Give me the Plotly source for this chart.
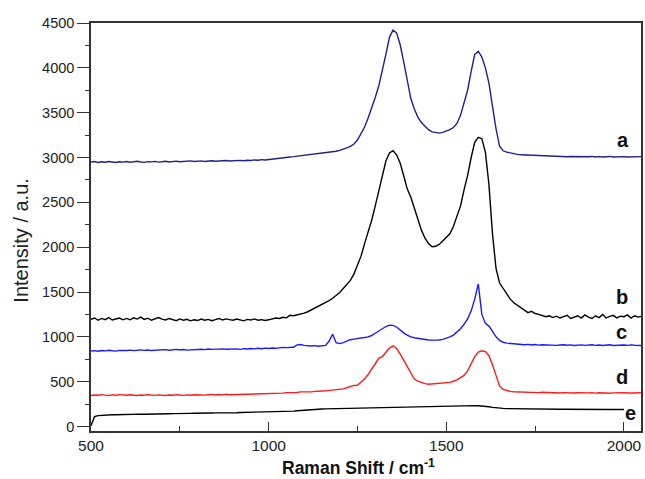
import plotly.graph_objects as go

# Raman shift grid (cm^-1), 10 cm^-1 steps
shift = list(range(500, 2051, 10))

# a: top spectrum (navy)
spec_a = [
    2950, 2955, 2945, 2952, 2948, 2956, 2950, 2944, 2953, 2949,
    2955, 2948, 2952, 2958, 2950, 2946, 2954, 2951, 2957, 2949,
    2953, 2958, 2950, 2955, 2960, 2952, 2957, 2954, 2962, 2956,
    2958, 2962, 2955, 2960, 2964, 2958, 2963, 2960, 2966, 2961,
    2965, 2962, 2968, 2964, 2970, 2967, 2973, 2969, 2976, 2972,
    2978, 2982, 2988, 2992, 2998, 3002, 3006, 3010, 3015, 3018,
    3022, 3028, 3032, 3036, 3042, 3047, 3052, 3058, 3064, 3070,
    3080, 3090, 3108, 3125, 3150, 3195, 3260, 3340, 3440, 3550,
    3670, 3800, 3960, 4150, 4340, 4420, 4390, 4260, 4070, 3850,
    3660, 3540, 3450, 3390, 3345, 3310, 3285, 3275, 3272, 3280,
    3295, 3310, 3335, 3380, 3470, 3610, 3750, 3960, 4150, 4185,
    4120, 4000, 3830, 3570, 3320, 3125, 3075, 3060, 3050, 3040,
    3035, 3030, 3028, 3025, 3022, 3020, 3018, 3020, 3016, 3015,
    3012, 3015, 3010, 3013, 3008, 3012, 3010, 3006, 3011, 3009,
    3008, 3012, 3006, 3010, 3005, 3009, 3012, 3006, 3010, 3008,
    3010, 3006, 3009, 3012, 3007, 3010,
]

# b: black spectrum
spec_b = [
    1195, 1210, 1185, 1205, 1192, 1215, 1188, 1200, 1210, 1190,
    1205, 1190, 1212, 1198, 1220, 1195, 1208, 1185, 1200, 1215,
    1198, 1188, 1205, 1192, 1180, 1200, 1185, 1195, 1178, 1190,
    1182, 1198, 1185, 1195, 1180, 1192, 1205, 1188, 1200, 1192,
    1185, 1198, 1190, 1178, 1195, 1188, 1200, 1185, 1192, 1182,
    1190, 1200, 1210, 1205, 1218, 1212, 1240, 1235, 1245, 1250,
    1265, 1280, 1300, 1320, 1340, 1360, 1385, 1405, 1430, 1460,
    1495, 1540, 1580, 1630, 1700, 1790, 1900, 2040, 2160, 2300,
    2460, 2620, 2800, 2960, 3050, 3075, 3030, 2940, 2800, 2650,
    2560, 2430, 2300, 2190, 2100, 2040, 2005, 2010, 2030, 2070,
    2110, 2150, 2230, 2340, 2460, 2640, 2800, 3000, 3170, 3225,
    3210, 3060, 2700, 2150, 1760, 1600, 1540, 1480, 1420, 1380,
    1350, 1330, 1300, 1270, 1285, 1260, 1250, 1240, 1225, 1235,
    1215, 1230, 1210, 1225, 1240, 1205, 1220, 1235, 1210, 1245,
    1220, 1205, 1235, 1215, 1250, 1210, 1228, 1240, 1212, 1230,
    1225, 1245, 1210, 1235, 1220, 1230,
]

# c: blue spectrum
spec_c = [
    842, 846, 840, 848, 844, 850, 845, 841, 849, 846,
    848, 852, 846, 850, 855, 849, 853, 847, 851, 856,
    852, 857, 850, 855, 860, 854, 858, 852, 856, 861,
    857, 862, 858, 865, 860, 863, 858, 866, 861, 864,
    862, 866, 860, 868, 864, 870, 866, 872, 868, 874,
    870, 876, 872, 878, 882, 880, 886, 884, 910, 915,
    905, 900, 898, 902, 896, 900, 905, 950, 1030, 935,
    925, 935, 955, 968, 975, 978, 985, 992, 1000, 1015,
    1040, 1065, 1095, 1115, 1130, 1128, 1110, 1075, 1045, 1020,
    1000, 990, 982, 975, 970, 965, 963, 962, 965, 972,
    985, 1000, 1020, 1050, 1090, 1140, 1200, 1290, 1420, 1590,
    1250, 1150, 1120, 1060, 1000, 960, 940, 930, 925, 920,
    918, 915, 912, 916, 910, 914, 908, 912, 910, 906,
    910, 905, 909, 912, 906, 910, 904, 908, 911, 905,
    908, 912, 905, 909, 903, 907, 911, 904, 908, 906,
    909, 905, 910, 906, 908, 904,
]

# d: red spectrum
spec_d = [
    345, 352, 348, 355, 350, 346, 353, 349, 356, 351,
    348, 354, 350, 346, 352, 349, 355, 350, 347, 353,
    350, 346, 352, 348, 355, 350, 347, 353, 349, 354,
    351, 356, 350, 354, 358, 352, 357, 353, 359, 355,
    356, 360, 355, 362, 358, 364, 360, 366, 362, 368,
    365, 370, 368, 374, 372, 378, 376, 382, 380, 386,
    384, 388, 386, 392, 390, 396, 398, 402, 406, 410,
    414, 420, 432, 445, 458, 460, 490, 530, 580, 640,
    700, 760, 780, 830, 875, 900, 870, 810, 740, 660,
    590, 530, 505, 490, 478, 472, 475, 478, 480, 483,
    487, 492, 505, 520, 545, 570, 620, 700, 780, 830,
    845, 835, 790, 690, 560, 450, 415, 400, 392, 388,
    386, 384, 382, 385, 380, 383, 378, 382, 379, 376,
    380, 377, 374, 378, 375, 379, 373, 377, 374, 376,
    375, 378, 372, 376, 373, 377, 371, 375, 378, 374,
    376, 373, 377, 374, 376, 375,
]

# e: lowest black spectrum (recorded up to 2000 cm^-1)
spec_e = [
    10, 110, 122, 126, 128, 130, 132, 131, 133, 134,
    135, 134, 136, 137, 138, 137, 139, 140, 139, 141,
    142, 141, 143, 144, 143, 145, 146, 145, 147, 148,
    147, 149, 150, 149, 151, 152, 151, 153, 154, 153,
    155, 154, 156, 157, 156, 158, 159, 158, 160, 161,
    160, 162, 163, 162, 164, 166, 168, 172, 176, 180,
    183, 186, 189, 191, 193, 195, 197, 198, 200, 201,
    203, 204, 205, 206, 207, 208, 209, 210, 211, 212,
    213, 214, 215, 216, 217, 218, 218, 219, 220, 220,
    221, 221, 222, 222, 223, 223, 224, 224, 225, 225,
    226, 226, 227, 228, 229, 230, 231, 232, 233, 232,
    230, 226, 220, 214, 208, 204, 202, 200, 199, 198,
    198, 197, 197, 196, 196, 195, 195, 195, 194, 194,
    194, 193, 193, 193, 192, 192, 192, 191, 191, 191,
    191, 190, 190, 190, 190, 189, 189, 189, 189, 189,
    189, None, None, None, None, None,
]

names = ["a", "b", "c", "d", "e"]
spectra = [spec_a, spec_b, spec_c, spec_d, spec_e]
colors = ["#1f1f95", "#000000", "#1a1aff", "#ff1a1a", "#000000"]
# curve tags placed at the right end of each spectrum (x in cm^-1, y in a.u.)
tag_x = [1997, 1994, 1994, 1994, 2019]
tag_y = [3200, 1445, 1050, 550, 150]

FONT = "Liberation Sans, Arial, sans-serif"

fig = go.Figure()
for name, ys, color in zip(names, spectra, colors):
    fig.add_trace(go.Scatter(
        x=shift, y=ys, mode="lines", name=name,
        line=dict(color=color, width=1.4),
        connectgaps=False, showlegend=False,
    ))

for name, lx, ly in zip(names, tag_x, tag_y):
    fig.add_annotation(x=lx, y=ly, xref="x", yref="y", text=f"<b>{name}</b>",
                       showarrow=False, font=dict(size=20, color="#111111", family=FONT))

# axis titles
fig.add_annotation(x=0.487, y=-0.088, xref="paper", yref="paper",
                   text="<b>Raman Shift / cm<sup>-1</sup></b>", showarrow=False,
                   xanchor="center", yanchor="middle",
                   font=dict(size=17.5, color="#111111", family=FONT))
fig.add_annotation(x=-0.128, y=0.468, xref="paper", yref="paper",
                   text="Intensity / a.u.", showarrow=False, textangle=-90,
                   xanchor="center", yanchor="middle",
                   font=dict(size=20, color="#222222", family=FONT))

line_style = dict(showline=True, linecolor="#333333", linewidth=1.5, mirror=True,
                  showgrid=False, zeroline=False, tickcolor="#333333", tickwidth=1.2)

fig.update_xaxes(
    range=[500, 2048], tickmode="linear", tick0=500, dtick=500,
    ticks="inside", ticklen=9,
    minor=dict(ticks="inside", ticklen=5, tickcolor="#333333", dtick=250, tick0=500),
    tickfont=dict(size=15.5, color="#222222", family=FONT),
    **line_style,
)
fig.update_yaxes(
    range=[-50, 4500], tickmode="linear", tick0=0, dtick=500,
    ticks="outside", ticklen=12,
    minor=dict(ticks="outside", ticklen=4, tickcolor="#333333", dtick=250, tick0=0),
    tickfont=dict(size=14.5, color="#222222", family=FONT),
    **line_style,
)

fig.update_layout(
    width=645, height=479,
    margin=dict(l=91, r=2, t=23, b=48),
    paper_bgcolor="white", plot_bgcolor="white",
)

fig.write_html("out.html")
